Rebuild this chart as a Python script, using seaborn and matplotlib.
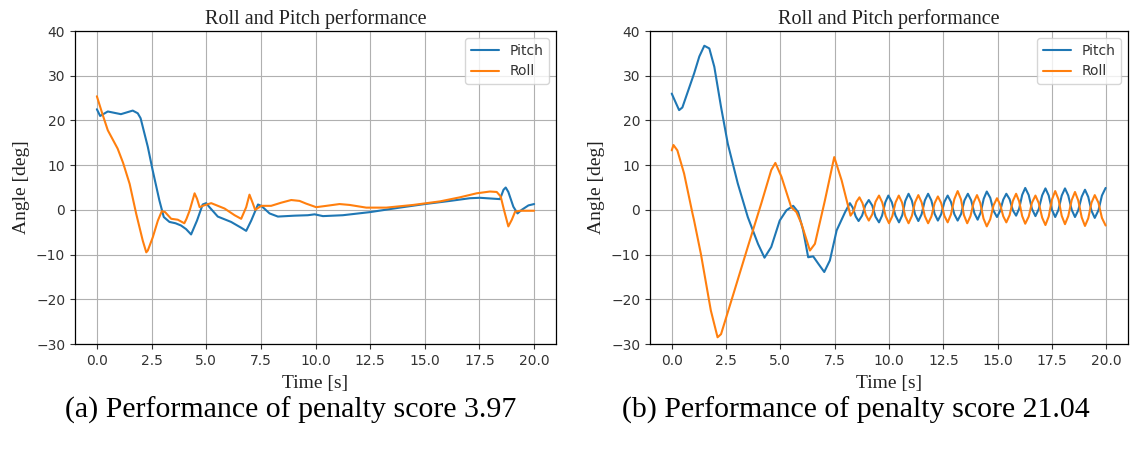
import matplotlib
matplotlib.use("Agg")
import matplotlib.pyplot as plt
import seaborn as sns

# ---------------- data ----------------
# (a) penalty score 3.97
t_pitch_a = [0, 0.15, 0.5, 1.1, 1.64, 1.87, 2.0, 2.33, 2.55, 2.86, 3.06, 3.32, 3.6, 3.85,
             4.08, 4.31, 4.58, 4.84, 5.0, 5.15, 5.53, 6.14, 6.6, 6.83, 7.06, 7.37, 7.52,
             7.9, 8.28, 9.04, 9.65, 9.96, 10.34, 11.25, 12.5, 13.85, 15.0, 16.15, 17.06,
             17.52, 18.44, 18.6, 18.7, 18.82, 19.05, 19.24, 19.43, 19.74, 20.0]
pitch_a = [22.5, 21.0, 22.0, 21.4, 22.2, 21.6, 20.5, 14.1, 8.9, 2.1, -1.6, -2.7, -3.0, -3.5,
           -4.3, -5.5, -2.4, 1.2, 1.5, 0.6, -1.5, -2.7, -4.0, -4.7, -2.4, 1.2, 0.9,
           -0.8, -1.5, -1.3, -1.2, -1.0, -1.4, -1.2, -0.5, 0.5, 1.3, 2.0, 2.6,
           2.7, 2.4, 4.5, 5.0, 4.0, 0.7, -0.8, 0.0, 1.0, 1.3]

t_roll_a = [0, 0.25, 0.5, 0.95, 1.2, 1.5, 1.8, 2.1, 2.26, 2.33, 2.56, 2.79, 2.97, 3.12, 3.4,
            3.7, 4.0, 4.1, 4.24, 4.47, 4.58, 4.7, 4.9, 5.23, 5.84, 6.3, 6.6, 6.83, 6.98,
            7.13, 7.24, 7.52, 7.97, 8.43, 8.89, 9.27, 9.57, 10.03, 10.5, 11.1, 11.56,
            12.32, 13.24, 14.47, 15.7, 16.6, 17.37, 17.98, 18.29, 18.47, 18.62, 18.82,
            18.98, 19.13, 19.36, 20.0]
roll_a = [25.4, 21.5, 17.8, 13.7, 10.5, 5.8, -0.9, -6.9, -9.5, -9.1, -6.1, -2.4, -0.3, -0.5, -2.0,
          -2.2, -3.0, -2.0, -0.2, 3.7, 2.5, 0.6, 1.0, 1.5, 0.3, -1.2, -2.0, 0.6, 3.4,
          1.5, 0.0, 0.9, 0.9, 1.6, 2.2, 2.0, 1.4, 0.6, 0.9, 1.3, 1.1,
          0.5, 0.5, 1.1, 1.9, 2.8, 3.7, 4.1, 4.0, 3.0, 0.0, -3.7,
          -2.2, -0.4, -0.2, -0.2]

# (b) penalty score 21.04
t_pitch_b = [0, 0.1, 0.34, 0.49, 1.03, 1.27, 1.5, 1.73, 1.96, 2.27, 2.58, 3.04, 3.5, 3.97,
             4.27, 4.58, 4.97, 5.28, 5.59, 5.82, 6.05, 6.28, 6.51, 6.74, 7.02, 7.28, 7.59, 7.98,
             8.2, 8.33, 8.47, 8.6, 8.76, 8.91, 9.07, 9.23, 9.38, 9.54, 9.68, 9.83,
             9.97, 10.13, 10.3, 10.46, 10.61, 10.75, 10.9, 11.05, 11.2, 11.35, 11.5, 11.65,
             11.8, 11.95, 12.1, 12.25, 12.4, 12.55, 12.7, 12.85, 13.01, 13.16, 13.32, 13.47,
             13.63, 13.78, 13.93, 14.08, 14.22, 14.36, 14.5, 14.66, 14.81, 14.97, 15.11, 15.26,
             15.4, 15.55, 15.7, 15.85, 15.99, 16.13, 16.27, 16.43, 16.58, 16.74, 16.89, 17.05,
             17.2, 17.35, 17.5, 17.65, 17.8, 17.95, 18.1, 18.25, 18.41, 18.56, 18.71, 18.87,
             19.02, 19.17, 19.32, 19.47, 19.64, 19.8, 19.97]
pitch_b = [26.0, 24.9, 22.3, 22.9, 30.5, 34.3, 36.7, 36.1, 32.0, 23.0, 14.8, 5.9, -1.6, -7.6,
           -10.7, -8.3, -2.4, -0.1, 0.9, -0.5, -4.6, -10.6, -10.4, -12.0, -13.9, -11.3, -4.6, -0.5,
           1.5, 0.5, -1.5, -2.5, -1.3, 1.0, 2.2, 0.95, -1.55, -2.8, -1.3, 1.7,
           3.2, 1.7, -1.3, -2.8, -1.2, 2.0, 3.6, 2.1, -1.0, -2.5, -1.0, 2.1,
           3.6, 2.1, -0.9, -2.4, -1.0, 1.8, 3.2, 1.8, -1.0, -2.4, -0.9, 2.1,
           3.6, 2.15, -0.75, -2.2, -0.6, 2.5, 4.1, 2.7, -0.2, -1.6, -0.3, 2.3,
           3.6, 2.4, -0.1, -1.3, 0.25, 3.35, 4.9, 3.3, 0.2, -1.4, 0.15, 3.25,
           4.8, 3.2, 0.0, -1.6, 0.0, 3.2, 4.8, 3.2, 0.0, -1.6, -0.1, 2.95,
           4.5, 2.9, -0.2, -1.8, -0.1, 3.2, 4.9]

t_roll_b = [0, 0.08, 0.26, 0.57, 0.96, 1.03, 1.34, 1.8, 2.11, 2.27, 2.89, 3.5, 4.12, 4.58,
            4.77, 5.05, 5.5, 5.74, 5.97, 6.36, 6.59, 7.05, 7.48, 7.82,
            8.23, 8.37, 8.5, 8.64, 8.78, 8.93, 9.07, 9.23, 9.38, 9.54, 9.69, 9.85,
            10.0, 10.15, 10.3, 10.45, 10.6, 10.75, 10.9, 11.05, 11.2, 11.35, 11.5, 11.65,
            11.8, 11.95, 12.1, 12.25, 12.4, 12.55, 12.7, 12.85, 13.01, 13.16, 13.31, 13.45,
            13.6, 13.75, 13.9, 14.05, 14.2, 14.35, 14.5, 14.66, 14.81, 14.97, 15.11, 15.26,
            15.4, 15.55, 15.7, 15.85, 15.99, 16.13, 16.27, 16.43, 16.58, 16.74, 16.89, 17.05,
            17.2, 17.35, 17.5, 17.65, 17.8, 17.95, 18.1, 18.25, 18.41, 18.56, 18.71, 18.87,
            19.02, 19.17, 19.32, 19.47, 19.64, 19.8, 19.97]
roll_b = [13.3, 14.5, 13.3, 8.1, -0.9, -2.4, -9.8, -22.5, -28.5, -27.8, -18.0, -8.3, 1.4, 8.9,
          10.5, 7.4, 0.6, -0.5, -3.1, -9.1, -7.6, 2.1, 11.8, 6.6,
          -1.3, -0.3, 1.8, 2.8, 1.5, -1.1, -2.4, -1.0, 1.8, 3.2, 1.65, -1.45,
          -3.0, -1.45, 1.65, 3.2, 1.65, -1.45, -3.0, -1.4, 1.7, 3.3, 1.7, -1.4,
          -3.0, -1.5, 1.5, 3.0, 1.55, -1.35, -2.8, -1.05, 2.45, 4.2, 2.4, -1.2,
          -3.0, -1.4, 1.7, 3.3, 1.55, -1.95, -3.7, -2.1, 1.0, 2.6, 1.25, -1.45,
          -2.8, -1.2, 2.0, 3.6, 1.9, -1.4, -3.1, -1.5, 1.6, 3.2, 1.55, -1.75,
          -3.4, -1.5, 2.3, 4.2, 2.35, -1.35, -3.2, -1.4, 2.2, 4.0, 2.1, -1.7,
          -3.6, -1.9, 1.6, 3.3, 1.6, -1.8, -3.5]

series_names = ["Pitch", "Roll"]
x_ticks = [0.0, 2.5, 5.0, 7.5, 10.0, 12.5, 15.0, 17.5, 20.0]
y_ticks = [-30, -20, -10, 0, 10, 20, 30, 40]
title_text = "Roll and Pitch performance"
x_label = "Time [s]"
y_label = "Angle [deg]"
captions = ["(a) Performance of penalty score 3.97", "(b) Performance of penalty score 21.04"]

# ---------------- style ----------------
sns.set_theme(style="ticks")
plt.rcParams["font.family"] = ["DejaVu Sans"]
SERIF = ["Liberation Serif", "DejaVu Serif"]
colors = ["#1f77b4", "#ff7f0e"]

fig = plt.figure(figsize=(11.33, 4.51), dpi=100)
ax_a = fig.add_axes([75 / 1133, (451 - 344) / 451, 481 / 1133, 313 / 451])
ax_b = fig.add_axes([650 / 1133, (451 - 344) / 451, 478 / 1133, 313 / 451])

panels = [
    (ax_a, (t_pitch_a, pitch_a), (t_roll_a, roll_a)),
    (ax_b, (t_pitch_b, pitch_b), (t_roll_b, roll_b)),
]

for ax, pitch, roll in panels:
    for (tx, vy), name, col in zip([pitch, roll], series_names, colors):
        sns.lineplot(x=tx, y=vy, ax=ax, label=name, color=col, linewidth=1.5,
                     sort=False, estimator=None)
    ax.set_xlim(-1, 21)
    ax.set_ylim(-30, 40)
    ax.set_xticks(x_ticks)
    ax.set_xticklabels([f"{v:.1f}" for v in x_ticks])
    ax.set_yticks(y_ticks)
    ax.grid(True, color="#b0b0b0", linewidth=0.8)
    ax.set_axisbelow(True)
    for sp in ax.spines.values():
        sp.set_visible(True)
        sp.set_color("black")
        sp.set_linewidth(0.9)
    ax.tick_params(axis="both", labelsize=10, colors="#333333", length=3.5, width=0.8,
                   labelcolor="#333333")
    ax.set_title(title_text, family=SERIF, fontsize=14.5, color="#222222", pad=5)
    ax.set_xlabel(x_label, family=SERIF, fontsize=14, color="#222222", labelpad=5)
    ax.set_ylabel(y_label, family=SERIF, fontsize=14, color="#222222", labelpad=4)
    leg = ax.legend(loc="upper right", fontsize=10, frameon=True, fancybox=True,
                    framealpha=0.8, edgecolor="#cccccc", borderaxespad=0.5)
    for txt in leg.get_texts():
        txt.set_color("#333333")

fig.text(291 / 1133, 1 - 410 / 451, captions[0], family=SERIF, fontsize=21.5,
         ha="center", va="center", color="black")
fig.text(856 / 1133, 1 - 410 / 451, captions[1], family=SERIF, fontsize=21.5,
         ha="center", va="center", color="black")

fig.savefig("out.png", dpi=100)
